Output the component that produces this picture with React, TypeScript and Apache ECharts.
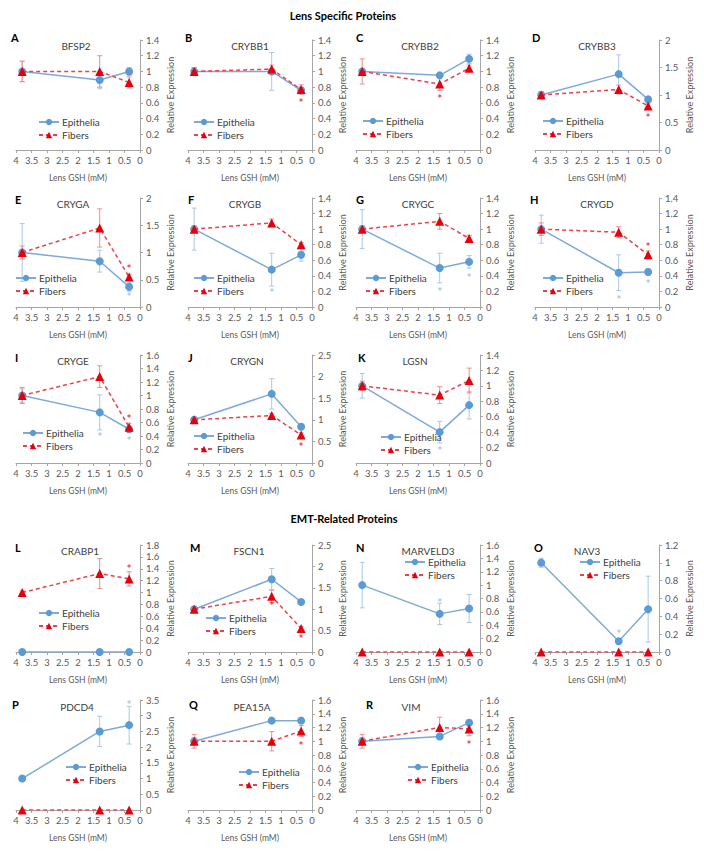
import React, { useEffect, useRef } from 'react';
import * as echarts from 'echarts';

// ---------------- data ----------------
const xLevels = [3.8, 1.3, 0.35]; // Lens GSH (mM)
const panelIds = ['A', 'B', 'C', 'D', 'E', 'F', 'G', 'H', 'I', 'J', 'K', 'L', 'M', 'N', 'O', 'P', 'Q', 'R'];
const proteins = ['BFSP2', 'CRYBB1', 'CRYBB2', 'CRYBB3', 'CRYGA', 'CRYGB', 'CRYGC', 'CRYGD', 'CRYGE', 'CRYGN', 'LGSN',
  'CRABP1', 'FSCN1', 'MARVELD3', 'NAV3', 'PDCD4', 'PEA15A', 'VIM'];
const yMax = [1.4, 1.4, 1.4, 2, 2, 1.4, 1.4, 1.4, 1.6, 2.5, 1.4, 1.8, 2.5, 1.6, 1.2, 3.5, 1.6, 1.6];
const yStep = [0.2, 0.2, 0.2, 0.5, 0.5, 0.2, 0.2, 0.2, 0.2, 0.5, 0.2, 0.2, 0.5, 0.2, 0.2, 0.5, 0.2, 0.2];

const epithelia = [
  [1.0, 0.89, 1.0], [1.0, 1.0, 0.76], [1.0, 0.95, 1.16], [1.0, 1.38, 0.92],
  [1.0, 0.84, 0.37], [1.0, 0.48, 0.67], [1.0, 0.5, 0.58], [1.0, 0.44, 0.45],
  [1.0, 0.75, 0.5], [1.0, 1.6, 0.84], [1.0, 0.4, 0.75],
  [0, 0, 0], [1.0, 1.7, 1.17], [1.0, 0.57, 0.65], [1.0, 0.12, 0.48],
  [1.0, 2.5, 2.7], [1.0, 1.3, 1.3], [1.0, 1.07, 1.27],
];
const fibers = [
  [1.0, 1.0, 0.86], [1.0, 1.03, 0.77], [1.0, 0.84, 1.04], [1.0, 1.1, 0.8],
  [1.0, 1.45, 0.55], [1.0, 1.08, 0.8], [1.0, 1.1, 0.88], [1.0, 0.96, 0.67],
  [1.0, 1.28, 0.53], [1.0, 1.1, 0.65], [1.0, 0.88, 1.07],
  [1.0, 1.32, 1.23], [1.0, 1.3, 0.55], [0, 0, 0], [0, 0, 0],
  [0, 0, 0], [1.0, 1.0, 1.15], [1.0, 1.2, 1.18],
];
const epiErr = [
  [0.13, 0.1, 0.05], [0.05, 0.24, 0.04], [0.04, 0.03, 0.06], [0.06, 0.35, 0.05],
  [0.53, 0.2, 0.08], [0.27, 0.21, 0.08], [0.25, 0.19, 0.08], [0.18, 0.23, 0.04],
  [0.1, 0.26, 0.05], [0.05, 0.35, 0.05], [0.16, 0.14, 0.18],
  [0, 0, 0], [0.05, 0.25, 0.05], [0.34, 0.16, 0.21], [0.05, 0.03, 0.37],
  [0.05, 0.48, 0.6], [0.05, 0.04, 0.04], [0.05, 0.03, 0.04],
];
const fibErr = [
  [0.13, 0.2, 0.07], [0.05, 0.05, 0.06], [0.16, 0.08, 0.04], [0.06, 0.08, 0.05],
  [0.12, 0.35, 0.05], [0.04, 0.05, 0.03], [0.04, 0.1, 0.04], [0.08, 0.07, 0.05],
  [0.12, 0.16, 0.06], [0.04, 0.05, 0.05], [0.06, 0.11, 0.16],
  [0.03, 0.25, 0.12], [0.04, 0.15, 0.05], [0, 0, 0], [0, 0, 0],
  [0, 0, 0], [0.1, 0.14, 0.08], [0.1, 0.15, 0.1],
];
// significance marks (*) : y position per GSH level, null = none
const epiStars = [
  [null, 0.79, null], [null, null, null], [null, null, null], [null, null, null],
  [null, null, 0.25], [null, 0.22, null], [null, 0.24, 0.42], [null, 0.14, 0.34],
  [null, 0.43, 0.38], [null, null, null], [null, 0.2, null],
  [null, null, null], [null, null, null], [null, 0.78, null], [null, 0.24, null],
  [null, null, 3.45], [null, null, null], [null, null, null],
];
const fibStars = [
  [null, null, null], [null, null, 0.64], [null, 0.69, null], [null, null, 0.65],
  [null, null, 0.77], [null, null, null], [null, null, null], [null, null, 0.81],
  [null, null, 0.7], [null, null, 0.46], [null, null, null],
  [null, null, 1.45], [null, 1.15, 0.38], [null, null, null], [null, null, null],
  [null, null, null], [null, null, 0.98], [null, null, 1.0],
];
const sectionTitles = ['Lens Specific Proteins', 'EMT-Related Proteins'];

// ---------------- layout ----------------
const panelCell = [
  [0, 0], [1, 0], [2, 0], [3, 0],
  [0, 1], [1, 1], [2, 1], [3, 1],
  [0, 2], [1, 2], [2, 2],
  [0, 3], [1, 3], [2, 3], [3, 3],
  [0, 4], [1, 4], [2, 4],
];
const colLeft = [16, 188, 356, 535];
const plotW = 124;
const rowTop = [40, 198, 355, 545, 700];
const rowH = [110, 109, 108, 107, 110];
const letterX = [11, 185, 356, 532, 15, 188, 356, 530, 15, 188, 358, 15, 190, 356, 534, 12, 189, 366];
const rowLetterY = [37, 199, 357, 547, 704];
const titleX = [76, 250, 420, 597, 73, 245, 418, 597, 73, 247, 415, 80, 249, 428, 587, 77, 252, 411];
const rowTitleY = [46, 204, 361, 551, 707];
const legendPos = [
  [38, 123], [193, 123], [362, 122], [542, 122],
  [15, 279], [193, 279], [365, 279], [542, 279],
  [22, 434], [193, 437], [380, 438],
  [38, 614], [205, 619], [404, 563], [579, 563],
  [65, 768], [238, 773], [407, 768],
];

const FONT = 'Lato, "Open Sans", sans-serif';
const AXIS = '#A6A6A6';
const LABEL = '#595959';
const EPI = '#5B9BD5';
const EPI_LINE = '#7EA9DA';
const EPI_ERR = '#A9C7E8';
const FIB = '#E3000F';
const FIB_LINE = '#E8434B';
const FIB_ERR = '#F08C8C';

function errRender(color: string) {
  return (params: any, api: any) => {
    const x = api.value(0);
    const lo = api.coord([x, api.value(1)]);
    const hi = api.coord([x, api.value(2)]);
    const st = { stroke: color, lineWidth: 1 };
    return {
      type: 'group',
      children: [
        { type: 'line', shape: { x1: hi[0], y1: hi[1], x2: lo[0], y2: lo[1] }, style: st },
        { type: 'line', shape: { x1: hi[0] - 2.5, y1: hi[1], x2: hi[0] + 2.5, y2: hi[1] }, style: st },
        { type: 'line', shape: { x1: lo[0] - 2.5, y1: lo[1], x2: lo[0] + 2.5, y2: lo[1] }, style: st },
      ],
    };
  };
}

function starRender(color: string) {
  return (params: any, api: any) => {
    const p = api.coord([api.value(0), api.value(1)]);
    return {
      type: 'text',
      x: p[0],
      y: p[1] + 3,
      style: {
        text: '*', fill: color, font: 'bold 12px ' + FONT,
        align: 'center', verticalAlign: 'middle', textAlign: 'center', textVerticalAlign: 'middle',
      },
    };
  };
}

function buildOption() {
  const grid: any[] = [];
  const xAxis: any[] = [];
  const yAxis: any[] = [];
  const series: any[] = [];
  const legend: any[] = [];
  const graphic: any[] = [];

  panelIds.forEach((id, i) => {
    const [col, row] = panelCell[i];
    grid.push({ left: colLeft[col], top: rowTop[row], width: plotW, height: rowH[row] });
    xAxis.push({
      gridIndex: i, type: 'value', min: 0, max: 4, interval: 0.5, inverse: true,
      name: 'Lens GSH (mM)', nameLocation: 'middle', nameGap: 23,
      nameTextStyle: { fontSize: 8.5, color: LABEL, fontFamily: FONT },
      axisLine: { show: true, onZero: false, lineStyle: { color: AXIS, width: 1 } },
      axisTick: { show: true, length: 3, lineStyle: { color: AXIS } },
      axisLabel: { fontSize: 9.5, color: LABEL, fontFamily: FONT, margin: 5 },
      splitLine: { show: false },
    });
    yAxis.push({
      gridIndex: i, type: 'value', position: 'right', min: 0, max: yMax[i], interval: yStep[i],
      name: 'Relative Expression', nameLocation: 'middle', nameRotate: 90, nameGap: 26,
      nameTextStyle: { fontSize: 9, color: LABEL, fontFamily: FONT },
      axisLine: { show: true, onZero: false, lineStyle: { color: AXIS, width: 1 } },
      axisTick: { show: true, length: 3, lineStyle: { color: AXIS } },
      axisLabel: { fontSize: 9.5, color: LABEL, fontFamily: FONT, margin: 6 },
      splitLine: { show: false },
    });

    const eErr = xLevels.map((x, j) => [x, epithelia[i][j] - epiErr[i][j], epithelia[i][j] + epiErr[i][j], epiErr[i][j]])
      .filter((d) => d[3] > 0);
    const fErr = xLevels.map((x, j) => [x, fibers[i][j] - fibErr[i][j], fibers[i][j] + fibErr[i][j], fibErr[i][j]])
      .filter((d) => d[3] > 0);
    series.push({
      type: 'custom', name: 'epiErr' + id, xAxisIndex: i, yAxisIndex: i, silent: true, z: 1,
      renderItem: errRender(EPI_ERR), encode: { x: 0, y: [1, 2] }, data: eErr,
    });
    series.push({
      type: 'custom', name: 'fibErr' + id, xAxisIndex: i, yAxisIndex: i, silent: true, z: 1,
      renderItem: errRender(FIB_ERR), encode: { x: 0, y: [1, 2] }, data: fErr,
    });
    series.push({
      type: 'line', name: 'Epithelia', xAxisIndex: i, yAxisIndex: i, z: 3,
      data: xLevels.map((x, j) => [x, epithelia[i][j]]),
      symbol: 'circle', symbolSize: 8,
      itemStyle: { color: EPI },
      lineStyle: { color: EPI_LINE, width: 1.5 },
    });
    series.push({
      type: 'line', name: 'Fibers', xAxisIndex: i, yAxisIndex: i, z: 4,
      data: xLevels.map((x, j) => [x, fibers[i][j]]),
      symbol: 'triangle', symbolSize: 9,
      itemStyle: { color: FIB },
      lineStyle: { color: FIB_LINE, width: 1.5, type: [4, 3] },
    });
    const es = xLevels.map((x, j) => [x, epiStars[i][j]]).filter((d) => d[1] !== null);
    const fs = xLevels.map((x, j) => [x, fibStars[i][j]]).filter((d) => d[1] !== null);
    series.push({
      type: 'custom', name: 'epiStar' + id, xAxisIndex: i, yAxisIndex: i, silent: true, z: 5,
      renderItem: starRender(EPI_ERR), encode: { x: 0, y: 1 }, data: es,
    });
    series.push({
      type: 'custom', name: 'fibStar' + id, xAxisIndex: i, yAxisIndex: i, silent: true, z: 5,
      renderItem: starRender(FIB_LINE), encode: { x: 0, y: 1 }, data: fs,
    });

    legend.push({
      left: legendPos[i][0], top: legendPos[i][1] - 6, orient: 'vertical', padding: 0, itemGap: 3,
      itemWidth: 20, itemHeight: 8, selectedMode: false,
      data: ['Epithelia', 'Fibers'],
      textStyle: { fontSize: 10, color: '#404040', fontFamily: FONT, padding: [0, 0, 0, -2] },
    });

    graphic.push({
      type: 'text', x: letterX[i], y: rowLetterY[row],
      style: { text: id, font: 'bold 11px ' + FONT, fill: '#000', verticalAlign: 'middle', textVerticalAlign: 'middle' },
    });
    graphic.push({
      type: 'text', x: titleX[i], y: rowTitleY[row],
      style: {
        text: proteins[i], font: '10px ' + FONT, fill: '#404040',
        align: 'center', verticalAlign: 'middle', textAlign: 'center', textVerticalAlign: 'middle',
      },
    });
  });

  graphic.push({
    type: 'text', x: 343, y: 15,
    style: { text: sectionTitles[0], font: 'bold 11px ' + FONT, fill: '#000', align: 'center', verticalAlign: 'middle', textAlign: 'center', textVerticalAlign: 'middle' },
  });
  graphic.push({
    type: 'text', x: 344, y: 518,
    style: { text: sectionTitles[1], font: 'bold 11px ' + FONT, fill: '#000', align: 'center', verticalAlign: 'middle', textAlign: 'center', textVerticalAlign: 'middle' },
  });

  return {
    animation: false,
    backgroundColor: '#ffffff',
    textStyle: { fontFamily: FONT },
    grid, xAxis, yAxis, series, legend, graphic,
  };
}

export default function App() {
  const ref = useRef<HTMLDivElement>(null);
  useEffect(() => {
    if (!ref.current) return;
    const chart = echarts.init(ref.current, undefined, { renderer: 'svg' });
    chart.setOption(buildOption() as any);
    return () => chart.dispose();
  }, []);
  return (
    <div
      ref={ref}
      style={{ position: 'fixed', left: 0, top: 0, width: 704, height: 860, background: '#fff' }}
    />
  );
}
